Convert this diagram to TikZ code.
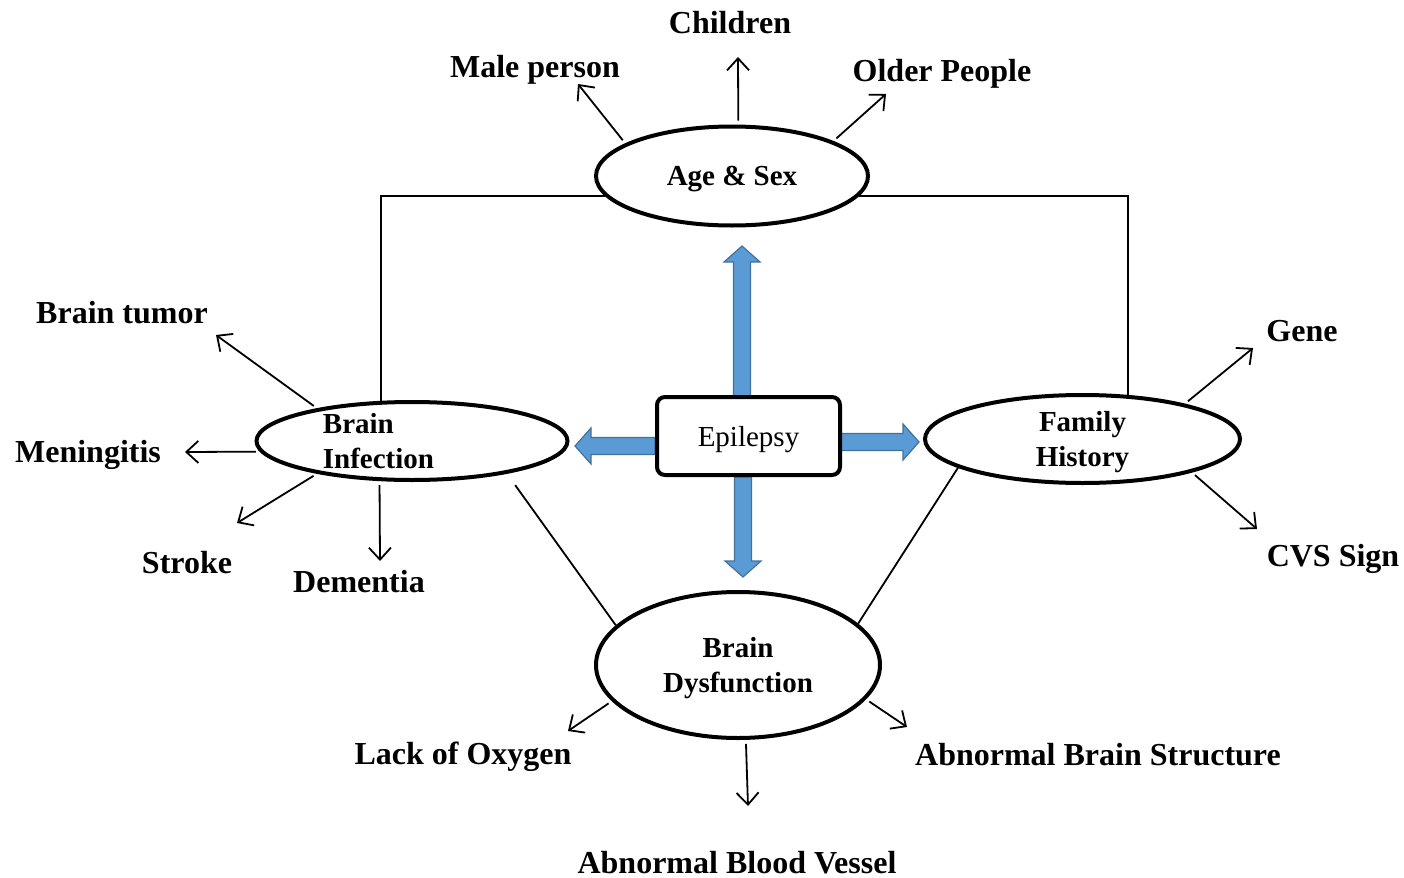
\documentclass[tikz,border=0pt]{standalone}
\usepackage{fontspec}
\setmainfont{Liberation Serif}
\usetikzlibrary{shapes.geometric,arrows.meta}

\definecolor{arrowblue}{RGB}{91,155,213}
\definecolor{arrowedge}{RGB}{65,113,156}

\tikzset{
  oval/.style={draw,ellipse,line width=2pt,inner sep=0pt,align=center,text depth=0pt,font=\fontsize{14.5}{17.5}\selectfont\bfseries},
  cause/.style={text depth=0pt,font=\fontsize{16}{19}\selectfont\bfseries},
  link/.style={line width=0.9pt},
  spoke/.style={link,-{Straight Barb[length=6pt,width=11pt]},shorten <=2pt},
  fat/.style={fill=arrowblue,draw=arrowedge,line width=0.6pt}
}

% x, y, angle, length
\newcommand{\fatarrow}[4]{%
  \draw[fat,shift={(#1,#2)},rotate=#3] (0,-8.5) -- (#4-16,-8.5) -- (#4-16,-18) -- (#4,0) -- (#4-16,18) -- (#4-16,8.5) -- (0,8.5) -- cycle;}

\begin{document}
\begin{tikzpicture}[x=0.5pt,y=-0.5pt]
\useasboundingbox (0,0) rectangle (1404,878);

% blue arrows out of the centre box:
\fatarrow{742}{396}{90}{150}
\fatarrow{655}{446}{180}{80}
\fatarrow{840}{442}{0}{79}
\fatarrow{743}{477}{270}{100}

\node[draw,line width=2pt,rounded corners=4pt,fill=white,minimum width=91.5pt,minimum height=39pt,text depth=0pt,font=\fontsize{14.5}{17.5}\selectfont] (epi) at (748.5,436) {Epilepsy};

% factors:
\node[oval,minimum width=136pt,minimum height=49.5pt] (age) at (732,176) {Age \& Sex};
\node[oval,minimum width=155.5pt,minimum height=39pt,label={[align=left,xshift=-16.75pt,font=\fontsize{14.5}{17.5}\selectfont\bfseries]center:Brain\\Infection}] (infect) at (412,441) {};
\node[oval,minimum width=157.5pt,minimum height=44pt] (fam) at (1082.5,439) {Family\\History};
\node[oval,minimum width=142pt,minimum height=73pt] (dysf) at (738,665) {Brain\\Dysfunction};

% lines between factors:
\draw[link] (age.189) -| (infect.128);
\draw[link] (age.351) -| (fam.44);
\draw[link,shorten <=7pt] (infect.341) -- (dysf.162);
\draw[link] (fam.193) -- (dysf.19);

% arrow tips:
\coordinate (maletip) at (578,84);
\coordinate (kidtip) at (738,57);
\coordinate (oldtip) at (886,94);
\coordinate (tumortip) at (216,335);
\coordinate (meningtip) at (185,452);
\coordinate (stroketip) at (237,523);
\coordinate (dementtip) at (380,561);
\coordinate (genetip) at (1253,348);
\coordinate (cvstip) at (1257,529);
\coordinate (oxytip) at (568,731);
\coordinate (vesseltip) at (748,806);
\coordinate (structtip) at (907,727);

\draw[spoke] (age.163) -- (maletip);
\draw[spoke] (age.83) -- (kidtip);
\draw[spoke] (age.19) -- (oldtip);
\draw[spoke] (infect.161) -- (tumortip);
\draw[spoke] (infect.184) -- (meningtip);
\draw[spoke] (infect.199) -- (stroketip);
\draw[spoke] (infect.231) -- (dementtip);
\draw[spoke] (fam.19) -- (genetip);
\draw[spoke] (fam.343) -- (cvstip);
\draw[spoke] (dysf.196) -- (oxytip);
\draw[spoke] (dysf.276) -- (vesseltip);
\draw[spoke] (dysf.345) -- (structtip);

% labels:
\node[cause] (male) at (535,66) {Male person};
\node[cause] (children) at (730,22) {Children};
\node[cause] (older) at (942,70) {Older People};
\node[cause] (tumor) at (122,312) {Brain tumor};
\node[cause] (mening) at (88,451) {Meningitis};
\node[cause] (stroke) at (187,562) {Stroke};
\node[cause] (dementia) at (359,581) {Dementia};
\node[cause] (gene) at (1302,331) {Gene};
\node[cause] (cvs) at (1333,555) {CVS Sign};
\node[cause] (oxygen) at (463,753) {Lack of Oxygen};
\node[cause] (structure) at (1098,754) {Abnormal Brain Structure};
\node[cause] (vessel) at (737,862) {Abnormal Blood Vessel};

\end{tikzpicture}
\end{document}
